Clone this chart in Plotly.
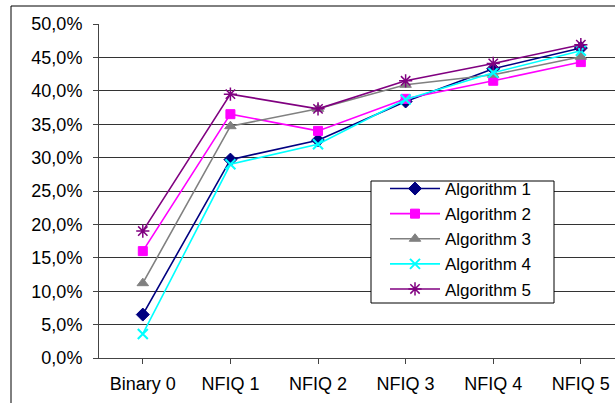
import plotly.graph_objects as go

categories = ["Binary 0", "NFIQ 1", "NFIQ 2", "NFIQ 3", "NFIQ 4", "NFIQ 5"]
alg1 = [0.065, 0.297, 0.326, 0.384, 0.433, 0.464]
alg2 = [0.160, 0.365, 0.340, 0.388, 0.415, 0.443]
alg3 = [0.112, 0.347, 0.373, 0.409, 0.424, 0.451]
alg4 = [0.036, 0.290, 0.320, 0.387, 0.427, 0.460]
alg5 = [0.190, 0.395, 0.373, 0.415, 0.441, 0.469]

series = [
    ("Algorithm 1", alg1, "#000080", "diamond", 10, 1),
    ("Algorithm 2", alg2, "#FF00FF", "square", 9, 1),
    ("Algorithm 3", alg3, "#808080", "triangle-up", 10, 1),
    ("Algorithm 4", alg4, "#00FFFF", "x-thin", 10, 2),
    ("Algorithm 5", alg5, "#800080", "asterisk", 11, 1.5),
]

fig = go.Figure()
for name, vals, color, sym, size, mlw in series:
    fig.add_trace(go.Scatter(
        x=list(range(len(categories))), y=vals, name=name, mode="lines+markers",
        line=dict(color=color, width=1.6),
        marker=dict(symbol=sym, size=size, color=color, line=dict(color=color, width=mlw)),
    ))

FONT = "Liberation Sans, Arial, sans-serif"
fig.update_layout(
    width=615, height=403,
    margin=dict(l=99, r=0, t=24, b=45, autoexpand=False),
    paper_bgcolor="white", plot_bgcolor="white",
    separators=",.",
    font=dict(family=FONT, size=18, color="black"),
    showlegend=True,
    legend=dict(
        x=(385 - 99) / 516, y=(358 - 171) / 334, xanchor="left", yanchor="top",
        borderwidth=0, bgcolor="rgba(0,0,0,0)",
        font=dict(family=FONT, size=17, color="black"), tracegroupgap=0, itemwidth=50,
    ),
    xaxis=dict(
        range=[-0.5, 5.39], tickvals=list(range(len(categories))), ticktext=categories,
        tickfont=dict(family=FONT, size=18, color="black"), automargin=False,
        showgrid=False, showline=True, linecolor="#444", linewidth=1,
        ticks="outside", tickson="boundaries", ticklen=5, tickcolor="#444",
        ticklabelstandoff=4,
        zeroline=False, fixedrange=True,
    ),
    yaxis=dict(
        range=[0, 0.5], dtick=0.05, tickformat=".1%",
        tickfont=dict(family=FONT, size=18, color="black"), automargin=False,
        showgrid=True, gridcolor="#333", gridwidth=1,
        showline=True, linecolor="#444", linewidth=1,
        ticks="outside", ticklen=5, tickcolor="#444",
        ticklabelstandoff=7,
        zeroline=False, fixedrange=True,
    ),
    shapes=[
        dict(type="rect", xref="paper", yref="paper",
             x0=(11 - 99) / 516, x1=1.05, y0=-0.3, y1=(358 - 6) / 334,
             line=dict(color="black", width=1), fillcolor="rgba(0,0,0,0)", layer="below"),
        dict(type="rect", xref="paper", yref="paper",
             x0=(371 - 99) / 516, x1=(554 - 99) / 516, y0=(358 - 303) / 334, y1=(358 - 181) / 334,
             line=dict(color="black", width=1), fillcolor="white", layer="above"),
    ],
)

fig.write_html("out.html", config={"displayModeBar": False},
               post_script="document.body.style.margin='0';")
